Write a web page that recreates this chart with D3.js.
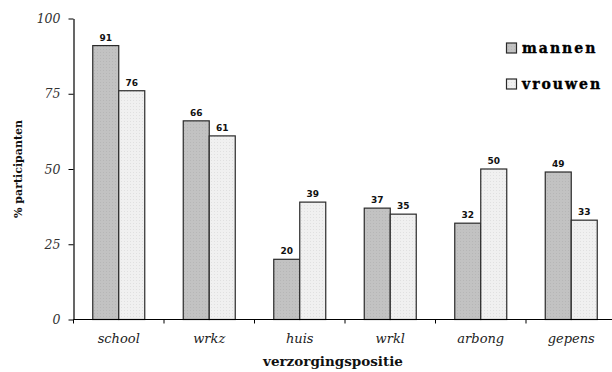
<!DOCTYPE html>
<html>
<head>
<meta charset="utf-8">
<script src="https://cdn.jsdelivr.net/npm/d3@7"></script>
<style>
  html, body { margin: 0; padding: 0; background: #fff; }
  svg { display: block; }
</style>
</head>
<body>
<svg id="chart" width="612" height="372"></svg>
<script>
// Participatie per verzorgingspositie, mannen vs vrouwen (%)
const categories = ["school", "wrkz", "huis", "wrkl", "arbong", "gepens"];
const mannen  = [91, 66, 20, 37, 32, 49];
const vrouwen = [76, 61, 39, 35, 50, 33];
const seriesNames = ["mannen", "vrouwen"];
const yTicks = [0, 25, 50, 75, 100];

const svg = d3.select("#chart");

// fine dotted fills for the bars
const defs = svg.append("defs");
function dotted(id, base, dot) {
  const p = defs.append("pattern").attr("id", id)
    .attr("width", 3).attr("height", 3).attr("patternUnits", "userSpaceOnUse");
  p.append("rect").attr("width", 3).attr("height", 3).attr("fill", base);
  p.append("rect").attr("x", 1).attr("y", 1).attr("width", 1).attr("height", 1).attr("fill", dot);
}
dotted("fillM", "#c2c2c2", "#b6b6b6");
dotted("fillV", "#f0f0f0", "#e0e0e0");
const fills = { mannen: "url(#fillM)", vrouwen: "url(#fillV)" };

const x0 = 73.5, yBase = 319.5, yTop = 18.5;
const x = d3.scaleBand().domain(categories).range([x0, x0 + 6 * 90.5]).paddingInner(0).paddingOuter(0);
const xs = d3.scaleBand().domain(seriesNames).range([0, 52]);
const y = d3.scaleLinear().domain([0, 100]).range([yBase, yTop]);

const rows = categories.map((c, i) => ({ cat: c, mannen: mannen[i], vrouwen: vrouwen[i] }));

// bars
const g = svg.append("g");
rows.forEach(r => {
  const left = x(r.cat) + (x.bandwidth() - 52) / 2;
  seriesNames.forEach(s => {
    g.append("rect")
      .attr("x", left + xs(s))
      .attr("y", y(r[s]))
      .attr("width", xs.bandwidth())
      .attr("height", yBase - y(r[s]))
      .attr("fill", fills[s])
      .attr("stroke", "#2a2a2a")
      .attr("stroke-width", 1.2);
    g.append("text")
      .attr("x", left + xs(s) + xs.bandwidth() / 2)
      .attr("y", y(r[s]) - 5)
      .attr("text-anchor", "middle")
      .attr("font-family", "DejaVu Sans")
      .attr("font-weight", "bold")
      .attr("font-size", 9)
      .attr("fill", "#111")
      .text(r[s]);
  });
});

// y axis
const yAxis = svg.append("g").attr("transform", `translate(${x0},0)`)
  .call(d3.axisLeft(y).tickValues(yTicks).tickSize(5).tickPadding(8).tickSizeOuter(0));
yAxis.select(".domain").attr("stroke", "#000").attr("stroke-width", 1.2);
yAxis.selectAll(".tick line").attr("stroke", "#000");
yAxis.selectAll("text")
  .attr("font-family", "DejaVu Serif").attr("font-style", "italic")
  .attr("font-size", 12.5).attr("fill", "#333");

// x axis: ticks sit on the category boundaries
const bounds = categories.map(c => x(c));
svg.append("line").attr("x1", x0).attr("x2", 612).attr("y1", yBase).attr("y2", yBase)
  .attr("stroke", "#000").attr("stroke-width", 1.2);
svg.append("g").selectAll("line").data(bounds).join("line")
  .attr("x1", d => d).attr("x2", d => d)
  .attr("y1", yBase).attr("y2", yBase + 4)
  .attr("stroke", "#000");
svg.append("g").selectAll("text").data(categories).join("text")
  .attr("x", d => x(d) + x.bandwidth() / 2)
  .attr("y", 343)
  .attr("text-anchor", "middle")
  .attr("font-family", "DejaVu Serif").attr("font-style", "italic")
  .attr("font-size", 13).attr("fill", "#222")
  .text(d => d);

// axis titles
svg.append("text")
  .attr("x", 333).attr("y", 366)
  .attr("text-anchor", "middle")
  .attr("font-family", "DejaVu Serif").attr("font-weight", "bold")
  .attr("font-size", 13.5).attr("fill", "#111")
  .text("verzorgingspositie");
svg.append("text")
  .attr("transform", `translate(22,${y(50)}) rotate(-90)`)
  .attr("text-anchor", "middle")
  .attr("font-family", "DejaVu Serif").attr("font-weight", "bold")
  .attr("font-size", 11).attr("fill", "#111")
  .text("% participanten");

// legend
const legend = svg.append("g");
seriesNames.forEach((s, i) => {
  const ly = 43 + i * 36;
  legend.append("rect").attr("x", 506.5).attr("y", ly).attr("width", 10).attr("height", 10)
    .attr("fill", fills[s]).attr("stroke", "#2a2a2a").attr("stroke-width", 1.2);
  legend.append("text").attr("x", 522).attr("y", ly + 10)
    .attr("font-family", "DejaVu Serif").attr("font-weight", "bold")
    .attr("font-size", 14).attr("letter-spacing", 2)
    .attr("fill", "#000").attr("stroke", "#000").attr("stroke-width", 0.4)
    .text(s);
});
</script>
</body>
</html>
